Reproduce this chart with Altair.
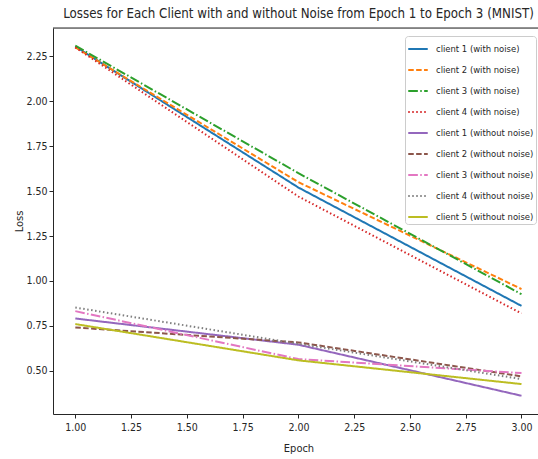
import altair as alt
import pandas as pd

epochs = [1, 2, 3]

series_names = [
    "client 1 (with noise)",
    "client 2 (with noise)",
    "client 3 (with noise)",
    "client 4 (with noise)",
    "client 1 (without noise)",
    "client 2 (without noise)",
    "client 3 (without noise)",
    "client 4 (without noise)",
    "client 5 (without noise)",
]

c1_noise = [2.305, 1.52, 0.861]
c2_noise = [2.300, 1.55, 0.955]
c3_noise = [2.310, 1.60, 0.926]
c4_noise = [2.300, 1.47, 0.819]
c1_clean = [0.791, 0.645, 0.361]
c2_clean = [0.741, 0.658, 0.469]
c3_clean = [0.832, 0.565, 0.487]
c4_clean = [0.852, 0.650, 0.454]
c5_clean = [0.760, 0.558, 0.426]

all_values = [c1_noise, c2_noise, c3_noise, c4_noise,
              c1_clean, c2_clean, c3_clean, c4_clean, c5_clean]

colors = ["#1f77b4", "#ff7f0e", "#2ca02c", "#d62728", "#9467bd",
          "#8c564b", "#e377c2", "#7f7f7f", "#bcbd22"]
solid = [1, 0]
dashed = [5.5, 2.4]
dashdot = [9.6, 2.4, 1.5, 2.4]
dotted = [1.5, 2.5]
dashes = [solid, dashed, dashdot, dotted, solid, dashed, dashdot, dotted, solid]

rows = []
for name, vals in zip(series_names, all_values):
    for e, v in zip(epochs, vals):
        rows.append({"series": name, "Epoch": e, "Loss": v})
df = pd.DataFrame(rows)

FONT = "DejaVu Sans Condensed, DejaVu Sans"
W, H = 485, 386
AX = "#262626"

lines = alt.Chart(df).mark_line(strokeWidth=2, clip=True).encode(
    x=alt.X("Epoch:Q",
            scale=alt.Scale(domain=[0.9, 3.074], nice=False, zero=False),
            axis=alt.Axis(values=[1.0, 1.25, 1.5, 1.75, 2.0, 2.25, 2.5, 2.75, 3.0],
                          format=".2f", grid=False, domainColor=AX, tickColor=AX,
                          tickSize=4, labelPadding=4, labelFontSize=10.5,
                          labelColor="#262626", labelFont=FONT,
                          title="Epoch", titleFont=FONT, titleFontSize=11,
                          titleFontWeight="normal", titleColor="#262626",
                          titleX=245.5, titleY=34, titleAnchor="start",
                          titleAlign="center", titleBaseline="middle")),
    y=alt.Y("Loss:Q",
            scale=alt.Scale(domain=[0.2594, 2.408], nice=False, zero=False),
            axis=alt.Axis(values=[0.5, 0.75, 1.0, 1.25, 1.5, 1.75, 2.0, 2.25],
                          format=".2f", grid=False, domainColor=AX, tickColor=AX,
                          tickSize=4, labelPadding=2, labelFontSize=10.5,
                          labelColor="#262626", labelFont=FONT,
                          title="Loss", titleFont=FONT, titleFontSize=11,
                          titleFontWeight="normal", titleColor="#262626",
                          titleX=-34, titleY=193, titleAngle=270,
                          titleAlign="center", titleBaseline="middle")),
    color=alt.Color("series:N",
                    scale=alt.Scale(domain=series_names, range=colors),
                    legend=alt.Legend(title=None, orient="none",
                                      legendX=352, legendY=8,
                                      symbolType="stroke", symbolSize=380,
                                      symbolStrokeWidth=2, labelFont=FONT,
                                      labelFontSize=9.4, labelColor="#262626",
                                      labelOffset=7, rowPadding=5,
                                      fillColor="white", strokeColor="#cccccc",
                                      cornerRadius=3, padding=2)),
    strokeDash=alt.StrokeDash("series:N",
                              scale=alt.Scale(domain=series_names, range=dashes),
                              legend=None),
    detail="series:N",
)

top = alt.Chart(pd.DataFrame({"a": [0]})).mark_rule(color=AX, strokeWidth=1).encode(
    x=alt.value(0), x2=alt.value(W), y=alt.value(0)
)

chart = alt.layer(lines, top).properties(
    width=W, height=H,
    autosize=alt.AutoSizeParams(type="none"),
    padding={"left": 53, "top": 28, "right": 0, "bottom": 45},
    title=alt.TitleParams(
        "Losses for Each Client with and without Noise from Epoch 1 to Epoch 3 (MNIST)",
        font=FONT, fontSize=13.2, fontWeight="normal", color="#262626",
        anchor="middle", offset=6, dx=3),
).configure_view(stroke=None).configure(background="white")

chart.save("out.html", embed_options={"renderer": "svg", "actions": False})
